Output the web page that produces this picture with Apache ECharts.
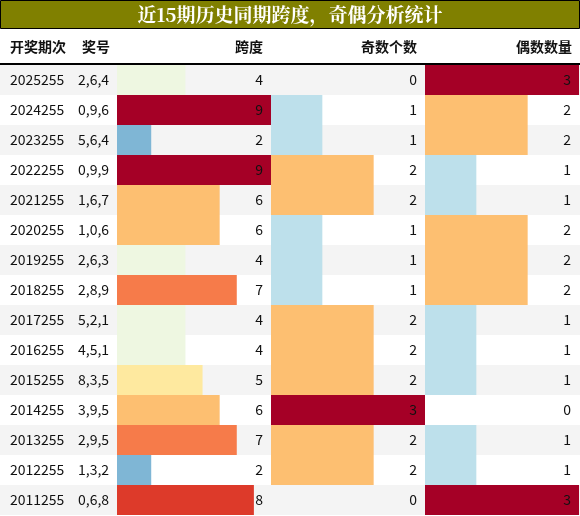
<!DOCTYPE html><html><head><meta charset="utf-8"><script src="https://cdn.jsdelivr.net/npm/echarts@6/dist/echarts.min.js"></script>
<style>html,body{margin:0;padding:0;background:#fff}#c{width:580px;height:516px}</style></head><body><div id="c"></div><script>
var periods=['2025255','2024255','2023255','2022255','2021255','2020255','2019255','2018255','2017255','2016255','2015255','2014255','2013255','2012255','2011255'];
var numbers=['2,6,4','0,9,6','5,6,4','0,9,9','1,6,7','1,0,6','2,6,3','2,8,9','5,2,1','4,5,1','8,3,5','3,9,5','2,9,5','1,3,2','0,6,8'];
var span=[4,9,2,9,6,6,4,7,4,4,5,6,7,2,8];
var odd=[0,1,1,2,2,1,1,1,2,2,2,3,2,2,0];
var even=[3,2,2,1,1,2,2,2,1,1,1,0,1,1,3];
var spanColors={0:'#fff',1:'#4a7bb7',2:'#7fb6d5',3:'#bde0eb',4:'#eef7e1',5:'#fee99f',6:'#fdbf71',7:'#f67b4a',8:'#dd3a2a',9:'#a50026'};
var cntColors={0:'#fff',1:'#bde0eb',2:'#fdbf71',3:'#a50026'};
var F='"Noto Sans CJK SC","Noto Sans",sans-serif';
var gTop=65,gH=450;
var ch=echarts.init(document.getElementById('c'));
function grid(l,w){return {left:l,width:w,top:gTop,height:gH};}
function yax(i,extra){return Object.assign({type:'category',gridIndex:i,data:periods,inverse:true,axisLine:{show:false},axisTick:{show:false},axisLabel:{show:false}},extra||{});}
function xax(i,max){return {type:'value',gridIndex:i,min:0,max:max,show:false};}
function bars(i,vals,max,cmap){return [
 {type:'bar',xAxisIndex:i,yAxisIndex:i,barWidth:'100%',silent:true,data:vals.map(function(v){return {value:v,itemStyle:{color:cmap[v]}};})},
 {type:'bar',xAxisIndex:i,yAxisIndex:i,barWidth:'100%',barGap:'-100%',silent:true,itemStyle:{color:'rgba(0,0,0,0)'},
  data:vals.map(function(v){return max;}),label:{show:true,position:'insideRight',distance:8,color:'#111',fontSize:14,fontFamily:F,formatter:function(p){return vals[p.dataIndex];}}}
];}
ch.setOption({animation:false,
 grid:[grid(0,580),grid(117,154),grid(271,154),grid(425,154)],
 xAxis:[xax(0,1),xax(1,9),xax(2,3),xax(3,3)],
 yAxis:[yax(0,{splitArea:{show:true,areaStyle:{color:['#f4f4f4','#ffffff']}},axisLabel:{show:true,inside:true,margin:0,fontSize:14,fontFamily:F,color:'#111',
   formatter:function(v,i){return '{a|'+v+'}{b|'+numbers[i]+'}';},rich:{a:{width:68,padding:[0,0,0,10],fontSize:14,fontFamily:F,color:'#111'},b:{fontSize:14,fontFamily:F,color:'#111'}}}}),yax(1),yax(2),yax(3)],
 series:[].concat(bars(1,span,9,spanColors),bars(2,odd,3,cntColors),bars(3,even,3,cntColors)),
 graphic:[
  {type:'rect',shape:{x:0.5,y:0.5,width:579,height:28},style:{fill:'#808000',stroke:'#000',lineWidth:1}},
  {type:'text',x:290,y:15,style:{text:'近15期历史同期跨度，奇偶分析统计',fill:'#fff',font:'bold 19px "Noto Serif CJK SC","DejaVu Serif",serif',align:'center',verticalAlign:'middle'}},
  {type:'text',x:10,y:47,style:{text:'开奖期次',fill:'#111',font:'bold 14px '+F,verticalAlign:'middle'}},
  {type:'text',x:82,y:47,style:{text:'奖号',fill:'#111',font:'bold 14px '+F,verticalAlign:'middle'}},
  {type:'text',x:263,y:47,style:{text:'跨度',fill:'#111',font:'bold 14px '+F,align:'right',verticalAlign:'middle'}},
  {type:'text',x:417,y:47,style:{text:'奇数个数',fill:'#111',font:'bold 14px '+F,align:'right',verticalAlign:'middle'}},
  {type:'text',x:572,y:47,style:{text:'偶数数量',fill:'#111',font:'bold 14px '+F,align:'right',verticalAlign:'middle'}},
  {type:'line',shape:{x1:0,y1:64,x2:580,y2:64},style:{stroke:'#000',lineWidth:2}}
 ]});
</script></body></html>
